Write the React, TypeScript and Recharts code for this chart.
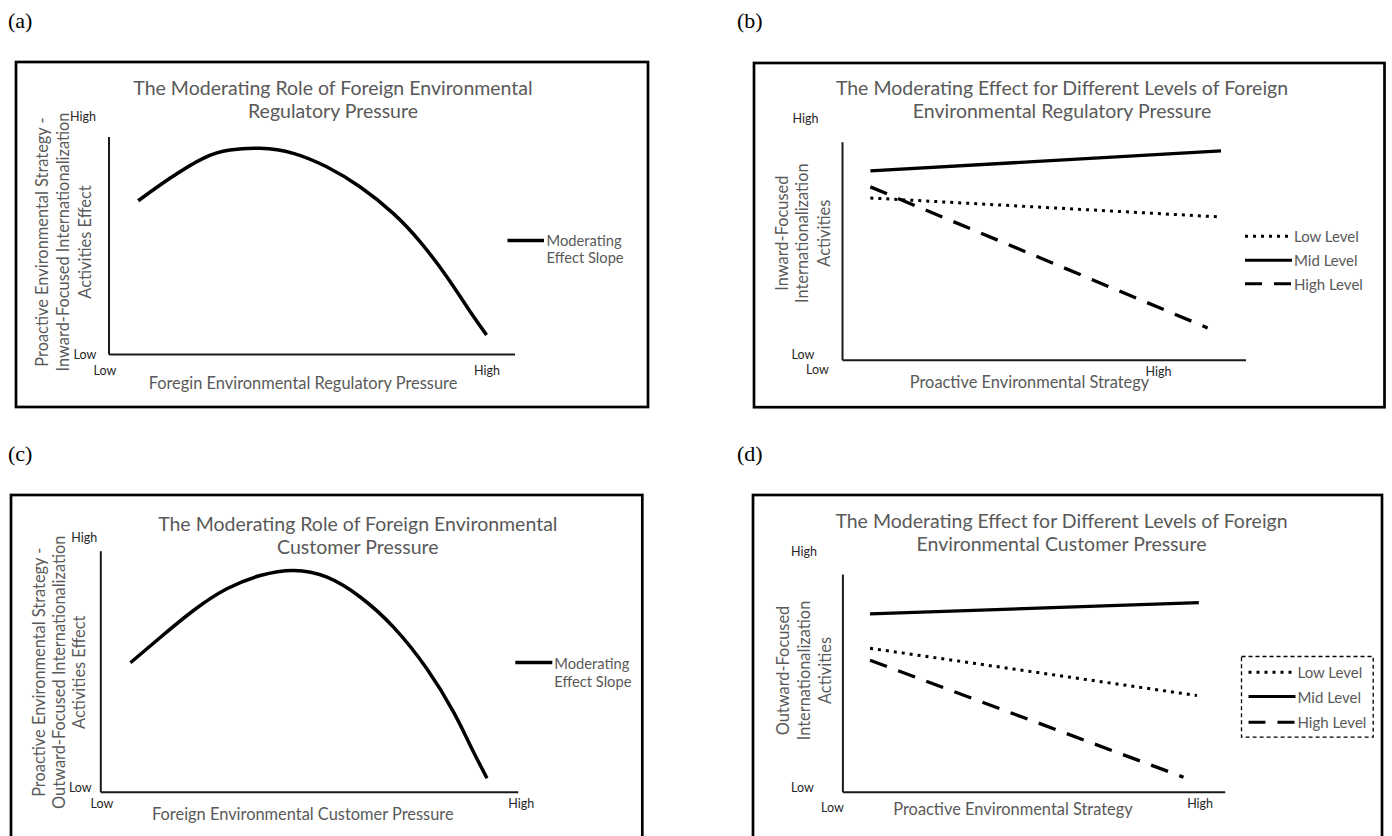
import React from "react";
import { LineChart, Line, XAxis, YAxis } from "recharts";

const FONT = "Lato, 'Open Sans', sans-serif";
const GRAY = "#595959";
const INK = "#262626";

// values are read on a 0 (Low) .. 100 (High) scale for both axes

// (a) moderating effect across foreign environmental regulatory pressure
const regulatoryCurve = [
  { x: 7.2, y: 70.7 },
  { x: 15.0, y: 81.0 },
  { x: 23.2, y: 90.2 },
  { x: 29.8, y: 94.0 },
  { x: 37.2, y: 94.8 },
  { x: 45.4, y: 92.5 },
  { x: 53.6, y: 86.3 },
  { x: 61.8, y: 77.1 },
  { x: 70.0, y: 64.9 },
  { x: 76.6, y: 51.9 },
  { x: 83.2, y: 35.8 },
  { x: 88.9, y: 19.9 },
  { x: 93.0, y: 9.0 },
];

// (b) inward-focused activities by proactive strategy, per regulatory level
const regLow = [
  { x: 6.9, y: 74.4 },
  { x: 93.8, y: 65.7 },
];
const regMid = [
  { x: 6.9, y: 86.8 },
  { x: 93.8, y: 96.0 },
];
const regHigh = [
  { x: 6.9, y: 79.5 },
  { x: 90.5, y: 14.8 },
];

// (c) moderating effect across foreign environmental customer pressure
const customerCurve = [
  { x: 7.1, y: 53.7 },
  { x: 14.3, y: 64.3 },
  { x: 22.2, y: 75.4 },
  { x: 30.2, y: 84.4 },
  { x: 38.2, y: 89.9 },
  { x: 46.2, y: 92.0 },
  { x: 54.2, y: 89.2 },
  { x: 62.2, y: 80.9 },
  { x: 70.1, y: 68.5 },
  { x: 78.1, y: 51.2 },
  { x: 84.5, y: 33.2 },
  { x: 88.5, y: 19.4 },
  { x: 92.5, y: 5.8 },
];

// (d) outward-focused activities by proactive strategy, per customer level
const custLow = [
  { x: 7.1, y: 66.1 },
  { x: 92.6, y: 44.4 },
];
const custMid = [
  { x: 7.1, y: 81.9 },
  { x: 93.1, y: 87.1 },
];
const custHigh = [
  { x: 7.1, y: 60.6 },
  { x: 89.1, y: 6.9 },
];

const levelNames = ["Low Level", "Mid Level", "High Level"];
const curveName = ["Moderating", "Effect Slope"];
const DOT = "3 5";
const DASH = "18 12";

type Pt = { x: number; y: number };
type Series = { name: string; data: Pt[]; dash?: string; width: number; curve: "natural" | "linear" };
type Rect = { l: number; t: number; r: number; b: number };

function Txt({
  x,
  y,
  children,
  size = 16.4,
  color = GRAY,
  anchor = "middle",
  rotate = false,
}: {
  x: number;
  y: number;
  children: React.ReactNode;
  size?: number;
  color?: string;
  anchor?: "start" | "middle" | "end";
  rotate?: boolean;
}) {
  return (
    <text
      x={x}
      y={y}
      fontFamily={FONT}
      fontSize={size}
      fill={color}
      textAnchor={anchor}
      dominantBaseline="central"
      transform={rotate ? `rotate(-90 ${x} ${y})` : undefined}
    >
      {children}
    </text>
  );
}

function Panel({
  frame,
  plot,
  series,
  children,
}: {
  frame: Rect;
  plot: Rect;
  series: Series[];
  children: React.ReactNode;
}) {
  const bx = frame.l - 2;
  const by = frame.t - 2;
  const bw = frame.r - frame.l + 4;
  const bh = frame.b - frame.t + 4;
  const axisStyle = { stroke: "#1a1a1a", strokeWidth: 2 };
  return (
    <div style={{ position: "absolute", left: bx, top: by, width: bw, height: bh }}>
      <LineChart
        width={bw}
        height={bh}
        margin={{
          top: plot.t - by,
          left: plot.l - bx - 1,
          right: bx + bw - plot.r,
          bottom: by + bh - plot.b - 1,
        }}
      >
        <XAxis
          type="number"
          dataKey="x"
          domain={[0, 100]}
          allowDataOverflow
          tick={false}
          tickLine={false}
          height={1}
          axisLine={axisStyle}
        />
        <YAxis
          type="number"
          domain={[0, 100]}
          allowDataOverflow
          tick={false}
          tickLine={false}
          width={1}
          axisLine={axisStyle}
        />
        {series.map((s) => (
          <Line
            key={s.name}
            name={s.name}
            data={s.data}
            dataKey="y"
            type={s.curve}
            stroke="#000"
            strokeWidth={s.width}
            strokeDasharray={s.dash}
            dot={false}
            activeDot={false}
            isAnimationActive={false}
          />
        ))}
      </LineChart>
      <svg
        width={bw}
        height={bh}
        style={{ position: "absolute", left: 0, top: 0, pointerEvents: "none" }}
      >
        <g transform={`translate(${-bx},${-by})`}>
          <rect
            x={frame.l}
            y={frame.t}
            width={frame.r - frame.l}
            height={frame.b - frame.t}
            fill="none"
            stroke="#000"
            strokeWidth={2.7}
          />
          {children}
        </g>
      </svg>
    </div>
  );
}

function LegendRow({ x1, x2, y, dash, label }: { x1: number; x2: number; y: number; dash?: string; label: string }) {
  return (
    <g>
      <line x1={x1} x2={x2} y1={y} y2={y} stroke="#000" strokeWidth={3} strokeDasharray={dash} />
      <Txt x={x2 + 2} y={y} size={15} anchor="start">
        {label}
      </Txt>
    </g>
  );
}

export default function App() {
  const levelSeries = (low: Pt[], mid: Pt[], high: Pt[]): Series[] => [
    { name: levelNames[0], data: low, dash: DOT, width: 3, curve: "linear" },
    { name: levelNames[1], data: mid, width: 3.3, curve: "linear" },
    { name: levelNames[2], data: high, dash: DASH, width: 3.3, curve: "linear" },
  ];

  return (
    <div
      style={{
        position: "absolute",
        left: 0,
        top: 0,
        width: 1392,
        height: 836,
        overflow: "hidden",
        background: "#fff",
      }}
    >
      <svg width={1392} height={836} style={{ position: "absolute", left: 0, top: 0 }}>
        {[
          ["(a)", 8, 20],
          ["(b)", 737, 20],
          ["(c)", 8, 453],
          ["(d)", 737, 453],
        ].map(([t, x, y]) => (
          <text
            key={t as string}
            x={x as number}
            y={y as number}
            fontFamily="'Liberation Serif', 'Times New Roman', serif"
            fontSize={22}
            dominantBaseline="central"
            fill="#000"
          >
            {t}
          </text>
        ))}
      </svg>

      {/* (a) */}
      <Panel
        frame={{ l: 16, t: 62, r: 648, b: 407 }}
        plot={{ l: 109, t: 137, r: 515, b: 354.5 }}
        series={[{ name: "Moderating Effect Slope", data: regulatoryCurve, width: 3.5, curve: "natural" }]}
      >
        <Txt x={333} y={87} size={19.5}>The Moderating Role of Foreign Environmental</Txt>
        <Txt x={333} y={110} size={19.5}>Regulatory Pressure</Txt>
        <Txt x={83} y={116} size={12.5} color={INK}>High</Txt>
        <Txt x={85} y={354} size={12.5} color={INK}>Low</Txt>
        <Txt x={105} y={370} size={12.5} color={INK}>Low</Txt>
        <Txt x={487} y={370} size={12.5} color={INK}>High</Txt>
        <Txt x={303} y={382}>Foregin Environmental Regulatory Pressure</Txt>
        <Txt x={41} y={242} rotate>Proactive Environmental Strategy -</Txt>
        <Txt x={62} y={242} rotate>Inward-Focused Internationalization</Txt>
        <Txt x={84} y={242} rotate>Activities Effect</Txt>
        <line x1={507.5} x2={544} y1={240.5} y2={240.5} stroke="#000" strokeWidth={3.5} />
        <Txt x={546.5} y={240} size={14.7} anchor="start">{curveName[0]}</Txt>
        <Txt x={546.5} y={257} size={14.7} anchor="start">{curveName[1]}</Txt>
      </Panel>

      {/* (b) */}
      <Panel
        frame={{ l: 754, t: 62.8, r: 1384.5, b: 407 }}
        plot={{ l: 842.5, t: 142, r: 1246, b: 360 }}
        series={levelSeries(regLow, regMid, regHigh)}
      >
        <Txt x={1062} y={87} size={19.5}>The Moderating Effect for Different Levels of Foreign</Txt>
        <Txt x={1062} y={110} size={19.5}>Environmental Regulatory Pressure</Txt>
        <Txt x={805.5} y={118} size={12.5} color={INK}>High</Txt>
        <Txt x={803} y={354} size={12.5} color={INK}>Low</Txt>
        <Txt x={817.5} y={369} size={12.5} color={INK}>Low</Txt>
        <Txt x={1158.5} y={371} size={12.5} color={INK}>High</Txt>
        <Txt x={1029.5} y={381}>Proactive Environmental Strategy</Txt>
        <Txt x={781} y={233} rotate>Inward-Focused</Txt>
        <Txt x={801.5} y={233} rotate>Internationalization</Txt>
        <Txt x={823} y={233} rotate>Activities</Txt>
        <LegendRow x1={1245} x2={1292} y={236} dash={DOT} label={levelNames[0]} />
        <LegendRow x1={1245} x2={1292} y={260} label={levelNames[1]} />
        <LegendRow x1={1245} x2={1292} y={283.5} dash="17 12" label={levelNames[2]} />
      </Panel>

      {/* (c) */}
      <Panel
        frame={{ l: 10.7, t: 494.5, r: 642, b: 860 }}
        plot={{ l: 100.5, t: 550.7, r: 518, b: 791.7 }}
        series={[{ name: "Moderating Effect Slope", data: customerCurve, width: 3.5, curve: "natural" }]}
      >
        <Txt x={357.5} y={522.5} size={19.5}>The Moderating Role of Foreign Environmental</Txt>
        <Txt x={357.5} y={545.5} size={19.5}>Customer Pressure</Txt>
        <Txt x={84} y={537} size={12.5} color={INK}>High</Txt>
        <Txt x={80} y={787} size={12.5} color={INK}>Low</Txt>
        <Txt x={101.7} y={802.7} size={12.5} color={INK}>Low</Txt>
        <Txt x={521} y={802.7} size={12.5} color={INK}>High</Txt>
        <Txt x={302.5} y={813}>Foreign Environmental Customer Pressure</Txt>
        <Txt x={38} y={671.7} rotate>Proactive Environmental Strategy -</Txt>
        <Txt x={58.5} y={671.7} rotate>Outward-Focused Internationalization</Txt>
        <Txt x={78.5} y={671.7} rotate>Activities Effect</Txt>
        <line x1={515} x2={552} y1={662} y2={662} stroke="#000" strokeWidth={3.5} />
        <Txt x={554} y={662} size={14.7} anchor="start">{curveName[0]}</Txt>
        <Txt x={554} y={680} size={14.7} anchor="start">{curveName[1]}</Txt>
      </Panel>

      {/* (d) */}
      <Panel
        frame={{ l: 752.5, t: 494.5, r: 1381.5, b: 860 }}
        plot={{ l: 842.4, t: 574, r: 1224.7, b: 791.7 }}
        series={levelSeries(custLow, custMid, custHigh)}
      >
        <Txt x={1061} y={519.5} size={19.5}>The Moderating Effect for Different Levels of Foreign</Txt>
        <Txt x={1061} y={542.7} size={19.5}>Environmental Customer Pressure</Txt>
        <Txt x={803.5} y={550.7} size={12.5} color={INK}>High</Txt>
        <Txt x={802} y={787} size={12.5} color={INK}>Low</Txt>
        <Txt x={832} y={806.7} size={12.5} color={INK}>Low</Txt>
        <Txt x={1199.6} y={803.3} size={12.5} color={INK}>High</Txt>
        <Txt x={1012.5} y={807.7}>Proactive Environmental Strategy</Txt>
        <Txt x={782} y={670} rotate>Outward-Focused</Txt>
        <Txt x={803} y={670} rotate>Internationalization</Txt>
        <Txt x={824} y={670} rotate>Activities</Txt>
        <rect
          x={1241}
          y={656}
          width={131.7}
          height={80.7}
          fill="none"
          stroke="#000"
          strokeWidth={1.3}
          strokeDasharray="4 3"
        />
        <LegendRow x1={1248} x2={1295} y={671.7} dash={DOT} label={levelNames[0]} />
        <LegendRow x1={1248} x2={1295} y={696} label={levelNames[1]} />
        <LegendRow x1={1248} x2={1295} y={721.7} dash="17 12" label={levelNames[2]} />
      </Panel>
    </div>
  );
}
